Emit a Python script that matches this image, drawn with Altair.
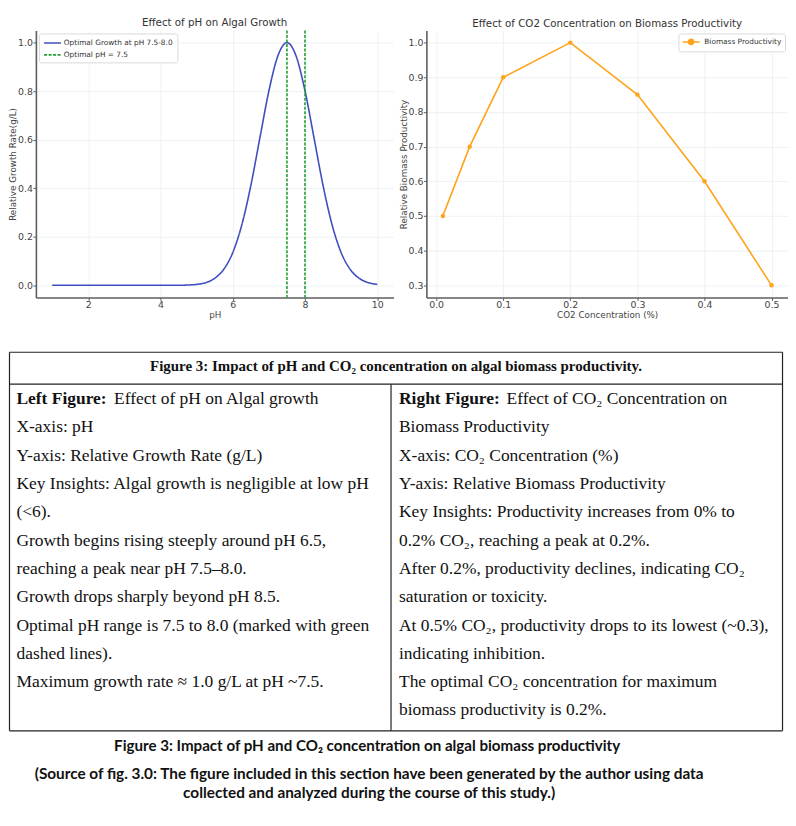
import altair as alt
import pandas as pd

# ---------------- data: left panel (pH) ----------------
ph_values = [1.0, 2.0, 3.0, 4.0, 4.5, 4.75, 5.0, 5.25, 5.5, 5.75, 6.0, 6.25, 6.5, 6.75,
             7.0, 7.25, 7.5, 7.75, 8.0, 8.25, 8.5, 8.75, 9.0, 9.25, 9.5, 9.75, 10.0]
growth_values = [0.0, 0.0, 0.0, 0.0, 0.0003, 0.0012, 0.004, 0.011, 0.029, 0.066, 0.135,
                 0.249, 0.411, 0.607, 0.801, 0.946, 1.0, 0.946, 0.801, 0.607, 0.411,
                 0.249, 0.135, 0.066, 0.029, 0.011, 0.004]
optimal_ph = [7.5, 8.0]
left_series = ["Optimal Growth at pH 7.5-8.0", "Optimal pH = 7.5"]
ph_ticks = [2, 4, 6, 8, 10]
growth_ticks = [0.0, 0.2, 0.4, 0.6, 0.8, 1.0]

# ---------------- data: right panel (CO2) ----------------
co2_values = [0.01, 0.05, 0.1, 0.2, 0.3, 0.4, 0.5]
productivity_values = [0.5, 0.7, 0.9, 1.0, 0.85, 0.6, 0.3]
right_series = ["Biomass Productivity"]
co2_ticks = [0.0, 0.1, 0.2, 0.3, 0.4, 0.5]
prod_ticks = [0.3, 0.4, 0.5, 0.6, 0.7, 0.8, 0.9, 1.0]

left_title = "Effect of pH on Algal Growth"
right_title = "Effect of CO2 Concentration on Biomass Productivity"

# ---------------- table text ----------------
table_header = "Figure 3: Impact of pH and CO\u2082 concentration on algal biomass productivity."
head_prefix = ["Left Figure:", "Right Figure:"]
head_rest = ["Effect of pH on Algal growth", "Effect of CO\u2082 Concentration on"]
left_lines = [
    "X-axis: pH",
    "Y-axis: Relative Growth Rate (g/L)",
    "Key Insights: Algal growth is negligible at low pH",
    "(<6).",
    "Growth begins rising steeply around pH 6.5,",
    "reaching a peak near pH 7.5\u20138.0.",
    "Growth drops sharply beyond pH 8.5.",
    "Optimal pH range is 7.5 to 8.0 (marked with green",
    "dashed lines).",
    "Maximum growth rate \u2248 1.0 g/L at pH ~7.5.",
]
right_lines = [
    "Biomass Productivity",
    "X-axis: CO\u2082 Concentration (%)",
    "Y-axis: Relative Biomass Productivity",
    "Key Insights: Productivity increases from 0% to",
    "0.2% CO\u2082, reaching a peak at 0.2%.",
    "After 0.2%, productivity declines, indicating CO\u2082",
    "saturation or toxicity.",
    "At 0.5% CO\u2082, productivity drops to its lowest (~0.3),",
    "indicating inhibition.",
    "The optimal CO\u2082 concentration for maximum",
    "biomass productivity is 0.2%.",
]
caption = "Figure 3: Impact of pH and CO\u2082 concentration on algal biomass productivity"
source_lines = [
    "(Source of fig. 3.0: The figure included in this section have been generated by the author using data",
    "collected and analyzed during the course of this study.)",
]

# ---------------- styles ----------------
BLUE = "#3f4fbf"
GREEN = "#1f9e2f"
ORANGE = "#ffa31a"
FONT = "DejaVu Sans"


def axis(**kw):
    base = dict(domainColor="#5e5e5e", domainWidth=1.6, tickColor="#5e5e5e", tickSize=3,
                tickWidth=1, labelFont=FONT, labelFontSize=9.4, labelColor="#444",
                titleFont=FONT, titleFontSize=8.8, titleColor="#444", titleFontWeight="normal",
                gridColor="#e3e9ec", gridWidth=0.6, labelPadding=0.5)
    base.update(kw)
    return alt.Axis(**base)


def title(text):
    return alt.TitleParams(text, font=FONT, fontSize=10.3, fontWeight="normal", color="#333",
                           offset=1)


# ---------------- left chart ----------------
curve_df = pd.DataFrame({"pH": ph_values, "growth": growth_values, "series": left_series[0]})
rule_df = pd.DataFrame({"pH": optimal_ph, "series": left_series[1]})

left_legend = alt.Legend(title=None, orient="top-left", offset=3, fillColor="white",
                         strokeColor="#d9d9d9", padding=4, cornerRadius=2, labelFont=FONT,
                         labelFontSize=7.4, labelColor="#333", symbolType="M-1,0H3",
                         symbolSize=72, symbolStrokeWidth=1.6, rowPadding=3, labelOffset=10)
color_l = alt.Color("series:N", scale=alt.Scale(domain=left_series, range=[BLUE, GREEN]),
                    legend=left_legend)
dash_l = alt.StrokeDash("series:N", scale=alt.Scale(domain=left_series, range=[[1, 0], [3, 1.5]]),
                        legend=left_legend)

x_ph = alt.X("pH:Q", scale=alt.Scale(domain=[0.55, 10.45], nice=False, zero=False),
             axis=axis(values=ph_ticks, format="d", title="pH", titlePadding=1))

curve = alt.Chart(curve_df).mark_line(strokeWidth=1.6, interpolate="monotone").encode(
    x=x_ph,
    y=alt.Y("growth:Q", scale=alt.Scale(domain=[-0.05, 1.05], nice=False, zero=False),
            axis=axis(values=growth_ticks, format=".1f", title="Relative Growth Rate(g/L)",
                      titlePadding=0)),
    color=color_l,
    strokeDash=dash_l,
)
vlines = alt.Chart(rule_df).mark_rule(strokeWidth=1.6).encode(
    x=x_ph, color=color_l, strokeDash=dash_l)

left = alt.layer(curve, vlines).properties(width=359, height=268, title=title(left_title))

# ---------------- right chart ----------------
right_df = pd.DataFrame({"co2": co2_values, "prod": productivity_values,
                         "series": right_series[0]})
right_legend = alt.Legend(title=None, orient="top-right", offset=3, fillColor="white",
                          strokeColor="#d9d9d9", padding=3, cornerRadius=2, labelFont=FONT,
                          labelFontSize=7.4, labelColor="#333",
                          symbolType="M-1,0H3M1.6,0A0.6,0.6,0,1,1,0.4,0A0.6,0.6,0,1,1,1.6,0Z",
                          symbolSize=72, symbolStrokeWidth=1.6, symbolFillColor=ORANGE,
                          labelOffset=12)
right = alt.Chart(right_df).mark_line(
    strokeWidth=1.6, point=alt.OverlayMarkDef(filled=True, size=20)
).encode(
    x=alt.X("co2:Q", scale=alt.Scale(domain=[-0.0145, 0.5245], nice=False, zero=False),
            axis=axis(values=co2_ticks, format=".1f", title="CO2 Concentration (%)",
                      titlePadding=1)),
    y=alt.Y("prod:Q", scale=alt.Scale(domain=[0.265, 1.035], nice=False, zero=False),
            axis=axis(values=prod_ticks, format=".1f", title="Relative Biomass Productivity",
                      titlePadding=0)),
    color=alt.Color("series:N", scale=alt.Scale(domain=right_series, range=[ORANGE]),
                    legend=right_legend),
).properties(width=363, height=268, title=title(right_title))

top = alt.hconcat(left, right, spacing=5).resolve_scale(
    color="independent", strokeDash="independent"
).resolve_legend(color="independent", strokeDash="independent")

# ---------------- table ----------------
# table origin sits under the left plot's origin; coordinates below are relative to it
TW, TH = 752, 490
SERIF = "Liberation Serif"
one = pd.DataFrame({"k": [0]})
XL, XR, XD = -26.5, 749.5, 356.5
YT, YH, YB = 16, 48, 396


def hrule(x1, x2, y):
    return alt.Chart(one).mark_rule(color="#222", strokeWidth=1.2).encode(
        x=alt.value(x1), x2=alt.value(x2), y=alt.value(y))


def vrule(x, y1, y2):
    return alt.Chart(one).mark_rule(color="#222", strokeWidth=1.2).encode(
        x=alt.value(x), y=alt.value(y1), y2=alt.value(y2))


borders = [hrule(XL, XR, YT), hrule(XL, XR, YH), hrule(XL, XR, YB),
           vrule(XL, YT, YB), vrule(XR, YT, YB), vrule(XD, YH, YB)]

body_df = pd.DataFrame(
    [{"col": 0, "row": i + 1, "text": t} for i, t in enumerate(left_lines)]
    + [{"col": 1, "row": i + 1, "text": t} for i, t in enumerate(right_lines)]
)
prefix_df = pd.DataFrame({"col": [0, 1], "row": [0, 0], "text": head_prefix})
rest_l_df = pd.DataFrame({"col": [0], "row": [0], "text": [head_rest[0]]})
rest_r_df = pd.DataFrame({"col": [1], "row": [0], "text": [head_rest[1]]})

tx = alt.X("col:Q", scale=alt.Scale(domain=[0, 1], range=[-19.5, 364.5]), axis=None)
ty = alt.Y("row:Q", scale=alt.Scale(domain=[0, 11], range=[63, 375.6]), axis=None)

text_kw = dict(align="left", baseline="middle", font=SERIF, fontSize=17.5, color="#111")
body = alt.Chart(body_df).mark_text(**text_kw).encode(x=tx, y=ty, text="text:N")
prefix = alt.Chart(prefix_df).mark_text(fontWeight="bold", **text_kw).encode(
    x=tx, y=ty, text="text:N")
rest_l = alt.Chart(rest_l_df).mark_text(dx=98, **text_kw).encode(x=tx, y=ty, text="text:N")
rest_r = alt.Chart(rest_r_df).mark_text(dx=108, **text_kw).encode(x=tx, y=ty, text="text:N")

header = alt.Chart(pd.DataFrame({"t": [table_header]})).mark_text(
    align="center", baseline="middle", font=SERIF, fontWeight="bold", fontSize=15, color="#111"
).encode(x=alt.value(361.5), y=alt.value(30), text="t:N")

cap = alt.Chart(pd.DataFrame({"t": [caption]})).mark_text(
    align="center", baseline="middle", font="Lato", fontWeight="bold", fontSize=15.2,
    color="#111"
).encode(x=alt.value(332.5), y=alt.value(411), text="t:N")

src_df = pd.DataFrame({"line": [0, 1], "t": source_lines})
src = alt.Chart(src_df).mark_text(
    align="center", baseline="middle", font="Lato", fontWeight="bold", fontSize=15.4,
    color="#111"
).encode(
    x=alt.value(334.5),
    y=alt.Y("line:Q", scale=alt.Scale(domain=[0, 1], range=[439, 458]), axis=None),
    text="t:N",
)

table = alt.layer(*borders, header, body, prefix, rest_l, rest_r, cap, src).resolve_scale(
    y="independent"
).properties(width=TW, height=TH)

chart = alt.vconcat(top, table, spacing=17).properties(
    padding={"left": 0, "top": 8, "right": 0, "bottom": 0}
).configure_view(strokeWidth=0)

chart.save("out.html", embed_options={"renderer": "svg", "actions": False})
